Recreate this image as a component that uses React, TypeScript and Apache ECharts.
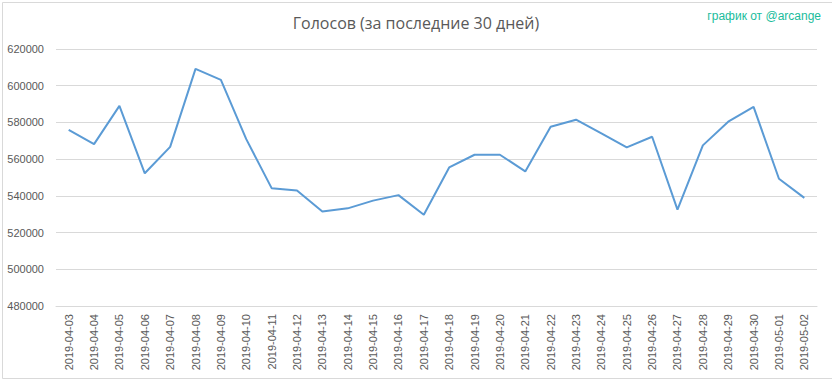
import React, { useEffect, useRef } from "react";
import * as echarts from "echarts";

const categories = [
  "2019-04-03", "2019-04-04", "2019-04-05", "2019-04-06", "2019-04-07", "2019-04-08",
  "2019-04-09", "2019-04-10", "2019-04-11", "2019-04-12", "2019-04-13", "2019-04-14",
  "2019-04-15", "2019-04-16", "2019-04-17", "2019-04-18", "2019-04-19", "2019-04-20",
  "2019-04-21", "2019-04-22", "2019-04-23", "2019-04-24", "2019-04-25", "2019-04-26",
  "2019-04-27", "2019-04-28", "2019-04-29", "2019-04-30", "2019-05-01", "2019-05-02",
];

const votes = [
  576000, 568200, 589000, 552300, 566700, 609200,
  603200, 570900, 544200, 542900, 531500, 533200,
  537400, 540400, 529700, 555500, 562400, 562400,
  553300, 577600, 581500, 574000, 566400, 572200,
  532500, 567500, 580400, 588500, 549300, 538900,
];

const titleText = "Голосов (за последние 30 дней)";
const watermarkText = "график от @arcange";

export default function App() {
  const ref = useRef<HTMLDivElement>(null);
  useEffect(() => {
    if (!ref.current) return;
    const chart = echarts.init(ref.current, null, { renderer: "svg" });
    chart.setOption({
      animation: false,
      backgroundColor: "#ffffff",
      textStyle: { fontFamily: "Liberation Sans" },
      title: {
        text: titleText,
        left: "center",
        top: 10,
        textStyle: { fontSize: 16, fontWeight: "normal", color: "#595959", fontFamily: "Open Sans" },
      },
      graphic: [
        {
          type: "rect",
          left: 0,
          top: 0,
          shape: { x: 0.5, y: 0.5, width: 830, height: 376 },
          style: { fill: "none", stroke: "#d9d9d9", lineWidth: 1 },
          silent: true,
          z: -1,
        },
        {
          type: "text",
          right: 11,
          top: 10,
          style: { text: watermarkText, fill: "#1abc9c", fontSize: 12, fontFamily: "Liberation Sans" },
        },
      ],
      grid: { left: 56, right: 15, top: 49, bottom: 73, containLabel: false },
      xAxis: {
        type: "category",
        data: categories,
        boundaryGap: true,
        axisLine: { show: true, lineStyle: { color: "#d9d9d9" } },
        axisTick: { show: false },
        axisLabel: { rotate: 90, interval: 0, fontSize: 11, color: "#595959", margin: 8 },
      },
      yAxis: {
        type: "value",
        min: 480000,
        max: 620000,
        interval: 20000,
        axisLine: { show: false },
        axisTick: { show: false },
        axisLabel: {
          fontSize: 11,
          color: "#595959",
          margin: 12,
          formatter: (v: number) => String(v),
        },
        splitLine: { lineStyle: { color: "#d9d9d9", width: 1 } },
      },
      series: [
        {
          type: "line",
          data: votes,
          symbol: "none",
          lineStyle: { color: "#5b9bd5", width: 2 },
        },
      ],
    });
    return () => chart.dispose();
  }, []);
  return <div ref={ref} style={{ width: 832, height: 379, position: "absolute", left: 0, top: 0 }} />;
}
